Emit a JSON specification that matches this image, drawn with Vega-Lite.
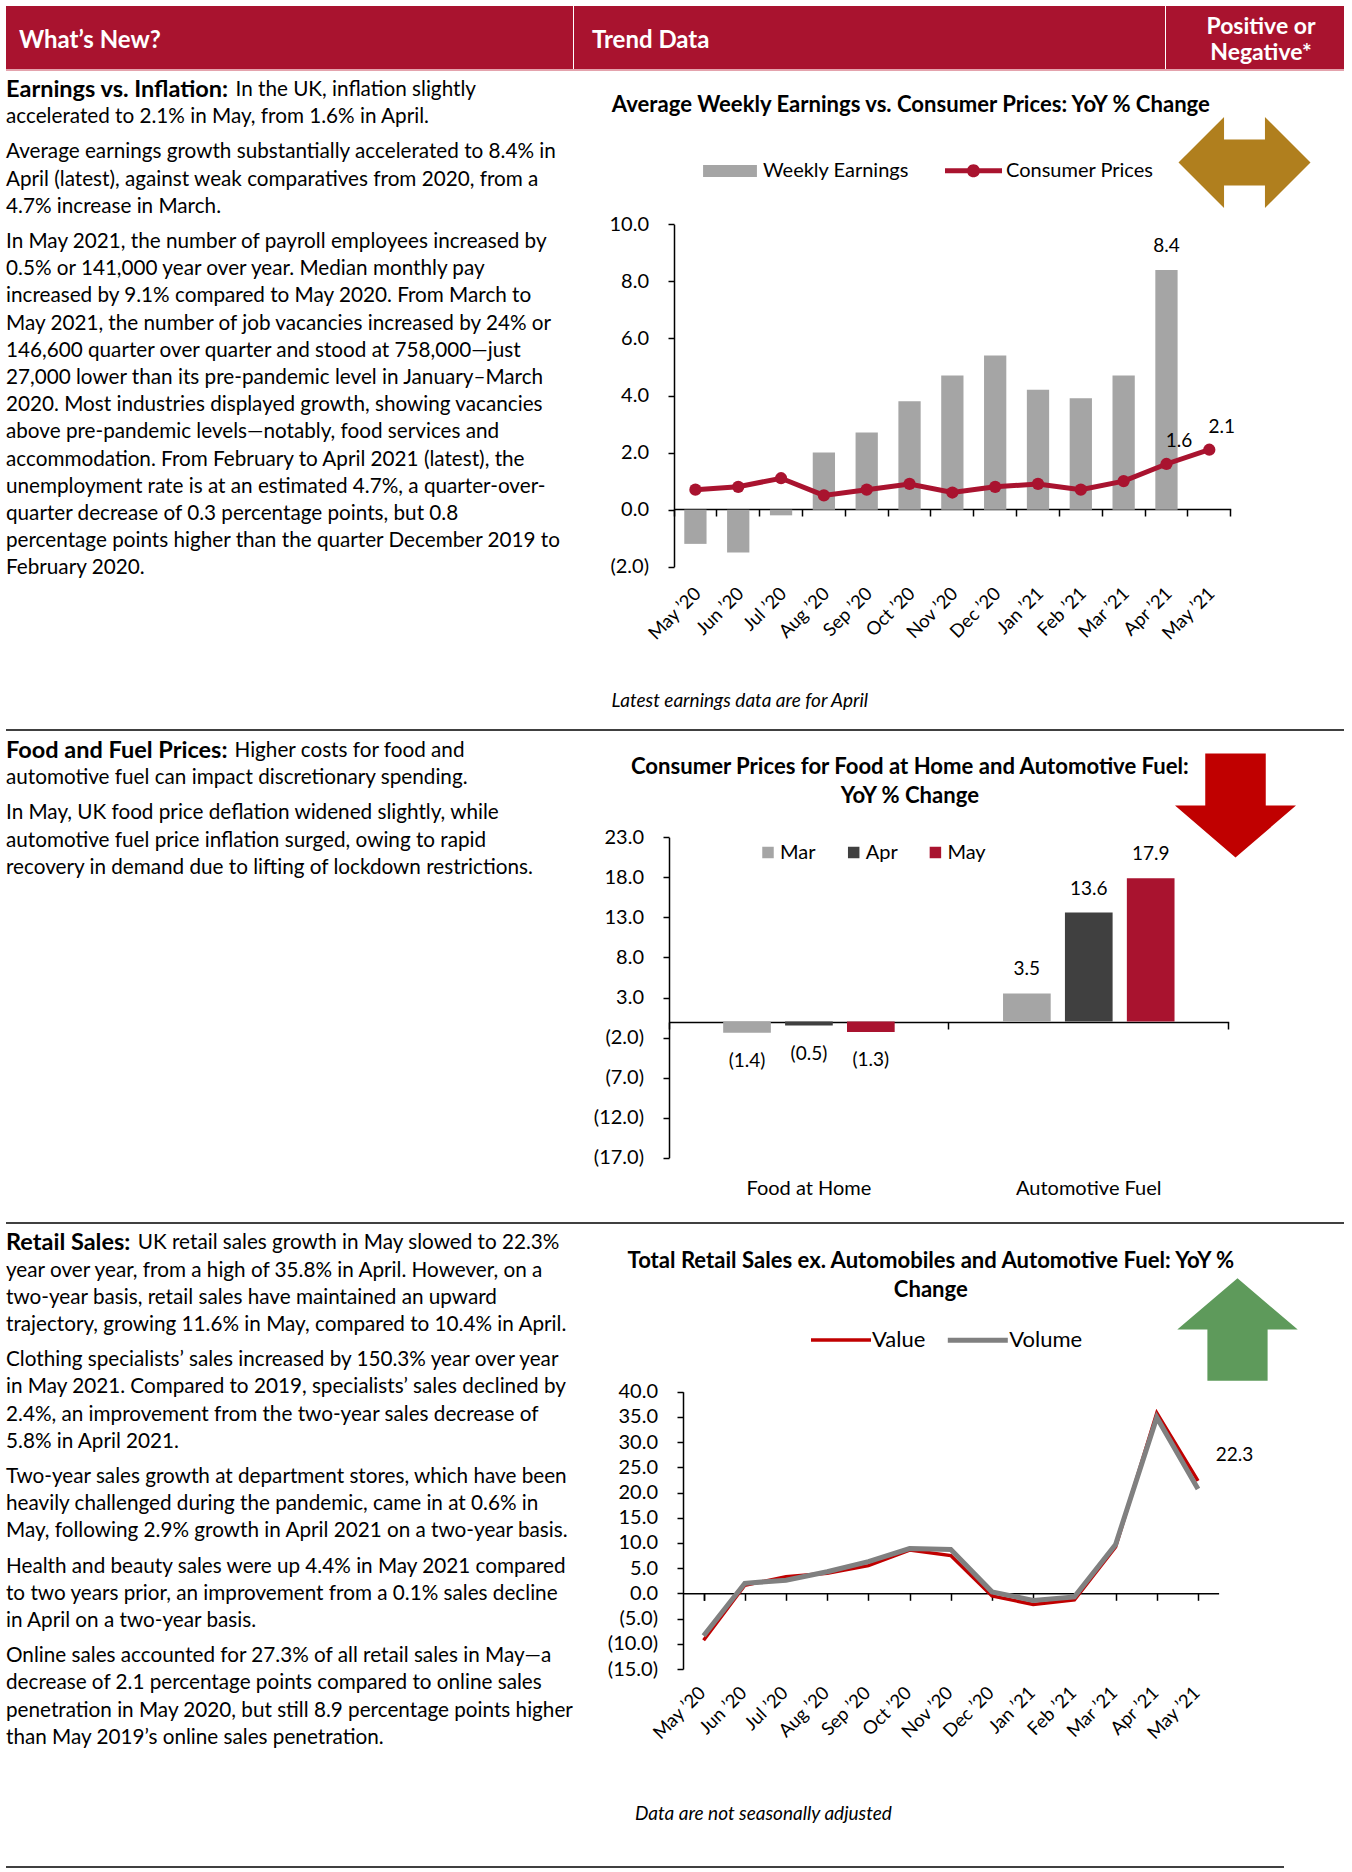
{
"$schema": "https://vega.github.io/schema/vega-lite/v6.json",
"background": "#ffffff",
"padding": {"left": 6, "top": 6, "right": 4, "bottom": 0},
"spacing": 0,
"resolve": {"scale": {"color": "independent", "fill": "independent", "shape": "independent", "yOffset": "independent", "xOffset": "independent", "strokeWidth": "independent"}},
"config": {
  "font": "Lato",
  "view": {"stroke": null},
  "axis": {"labelFont": "Lato", "titleFont": "Lato", "labelColor": "#000000", "titleColor": "#000000", "grid": false},
  "legend": {"labelFont": "Lato", "labelColor": "#000000", "labelLimit": 400},
  "title": {"font": "Lato", "color": "#000000"}
},
"vconcat": [
  {"hconcat": [
    {"width": 567, "height": 63, "view": {"fill": "#A9132F"}, "data": {"values": [{"h": "What’s New?"}]},
     "mark": {"type": "text", "align": "left", "baseline": "middle", "dx": 13, "dy": 3, "fontSize": 24, "fontWeight": "bold", "color": "#ffffff"},
     "encoding": {"x": {"datum": 0, "type": "quantitative", "scale": {"domain": [0, 1]}, "axis": null}, "text": {"field": "h"}}},
    {"width": 591, "height": 63, "view": {"fill": "#A9132F"}, "data": {"values": [{"h": "Trend Data"}]},
     "mark": {"type": "text", "align": "left", "baseline": "middle", "dx": 18, "dy": 3, "fontSize": 24, "fontWeight": "bold", "color": "#ffffff"},
     "encoding": {"x": {"datum": 0, "type": "quantitative", "scale": {"domain": [0, 1]}, "axis": null}, "text": {"field": "h"}}},
    {"width": 178, "height": 63, "view": {"fill": "#A9132F"}, "data": {"values": [{"h": "Positive or\nNegative*"}]},
     "mark": {"type": "text", "align": "center", "baseline": "middle", "lineBreak": "\n", "lineHeight": 26.5, "dx": 6, "dy": -10.8, "fontSize": 23, "fontWeight": "bold", "color": "#ffffff"},
     "encoding": {"text": {"field": "h"}}}
  ], "spacing": 1, "bounds": "flush"},
  {"width": 1338, "height": 2, "view": {"fill": "#E4A3AD"}, "data": {"values": []}, "mark": "point"},
  {"hconcat": [
    {"width": 667.4, "height": 658,
     "data": {"values": [
       {"line": 0, "para": 0, "lead": "Earnings vs. Inflation:", "text": "In the UK, inflation slightly"},
       {"line": 1, "para": 0, "text": "accelerated to 2.1% in May, from 1.6% in April."},
       {"line": 2, "para": 1, "text": "Average earnings growth substantially accelerated to 8.4% in"},
       {"line": 3, "para": 1, "text": "April (latest), against weak comparatives from 2020, from a"},
       {"line": 4, "para": 1, "text": "4.7% increase in March."},
       {"line": 5, "para": 2, "text": "In May 2021, the number of payroll employees increased by"},
       {"line": 6, "para": 2, "text": "0.5% or 141,000 year over year. Median monthly pay"},
       {"line": 7, "para": 2, "text": "increased by 9.1% compared to May 2020. From March to"},
       {"line": 8, "para": 2, "text": "May 2021, the number of job vacancies increased by 24% or"},
       {"line": 9, "para": 2, "text": "146,600 quarter over quarter and stood at 758,000—just"},
       {"line": 10, "para": 2, "text": "27,000 lower than its pre-pandemic level in January–March"},
       {"line": 11, "para": 2, "text": "2020. Most industries displayed growth, showing vacancies"},
       {"line": 12, "para": 2, "text": "above pre-pandemic levels—notably, food services and"},
       {"line": 13, "para": 2, "text": "accommodation. From February to April 2021 (latest), the"},
       {"line": 14, "para": 2, "text": "unemployment rate is at an estimated 4.7%, a quarter-over-"},
       {"line": 15, "para": 2, "text": "quarter decrease of 0.3 percentage points, but 0.8"},
       {"line": 16, "para": 2, "text": "percentage points higher than the quarter December 2019 to"},
       {"line": 17, "para": 2, "text": "February 2020."}
     ]},
     "encoding": {
       "x": {"datum": 0, "type": "quantitative", "scale": {"domain": [0, 1]}, "axis": null},
       "y": {"field": "line", "type": "ordinal", "scale": {"type": "point", "domain": [0,1,2,3,4,5,6,7,8,9,10,11,12,13,14,15,16,17], "range": [19, 481.4], "padding": 0}, "axis": null},
       "yOffset": {"field": "para", "type": "quantitative", "scale": {"domain": [0, 1], "range": [0, 8]}}
     },
     "layer": [
       {"transform": [{"filter": "isValid(datum.lead)"}], "mark": {"type": "text", "align": "left", "baseline": "middle", "fontSize": 23.5, "fontWeight": "bold", "color": "#000000"}, "encoding": {"text": {"field": "lead"}}},
       {"transform": [{"filter": "isValid(datum.lead)"}], "mark": {"type": "text", "align": "left", "baseline": "middle", "fontSize": 20.7, "dx": 229.5, "color": "#000000"}, "encoding": {"text": {"field": "text"}}},
       {"transform": [{"filter": "!isValid(datum.lead)"}], "mark": {"type": "text", "align": "left", "baseline": "middle", "fontSize": 20.7, "color": "#000000"}, "encoding": {"text": {"field": "text"}}}
     ]
    },
    {"width": 556.7, "height": 495.7,
     "title": {"text": "Average Weekly Earnings vs. Consumer Prices: YoY % Change", "anchor": "middle", "frame": "group", "baseline": "bottom", "dx": -41.5, "offset": -68, "fontSize": 22.1, "fontWeight": "bold", "color": "#000000"},
     "data": {"values": [
       {"m": "May ’20", "e": -1.2, "c": 0.7}, {"m": "Jun ’20", "e": -1.5, "c": 0.8}, {"m": "Jul ’20", "e": -0.2, "c": 1.1},
       {"m": "Aug ’20", "e": 2.0, "c": 0.5}, {"m": "Sep ’20", "e": 2.7, "c": 0.7}, {"m": "Oct ’20", "e": 3.8, "c": 0.9},
       {"m": "Nov ’20", "e": 4.7, "c": 0.6}, {"m": "Dec ’20", "e": 5.4, "c": 0.8}, {"m": "Jan ’21", "e": 4.2, "c": 0.9},
       {"m": "Feb ’21", "e": 3.9, "c": 0.7}, {"m": "Mar ’21", "e": 4.7, "c": 1.0}, {"m": "Apr ’21", "e": 8.4, "c": 1.6},
       {"m": "May ’21", "e": null, "c": 2.1}
     ]},
     "layer": [
       {"mark": {"type": "bar", "width": {"band": 0.52}},
        "encoding": {
          "x": {"field": "m", "type": "nominal", "scale": {"domain": ["May ’20","Jun ’20","Jul ’20","Aug ’20","Sep ’20","Oct ’20","Nov ’20","Dec ’20","Jan ’21","Feb ’21","Mar ’21","Apr ’21","May ’21"], "paddingInner": 0, "paddingOuter": 0},
                "axis": {"orient": "bottom", "domain": false, "ticks": false, "labelAngle": -45, "labelFontSize": 18.5, "labelPadding": 17, "labelOffset": -4, "labelColor": "#000000",
                         "title": "Latest earnings data are for April", "titleFontStyle": "italic", "titleFontWeight": "normal", "titleFontSize": 19, "titleAnchor": "start", "titleAlign": "left", "titleBaseline": "middle", "titleX": -63, "titleY": 134}},
          "y": {"field": "e", "type": "quantitative", "scale": {"domain": [-2, 10], "range": [495.7, 153.3], "nice": false},
                "axis": {"values": [-2,0,2,4,6,8,10], "format": "(.1f", "title": null, "domainColor": "#000000", "domainWidth": 1.5, "tickSize": 6, "tickWidth": 1.5, "tickColor": "#000000", "labelFontSize": 20, "labelPadding": 19.5}},
          "fill": {"datum": "Weekly Earnings", "type": "nominal", "scale": {"range": ["#A5A5A5"]},
                   "legend": {"orient": "none", "legendX": 29, "legendY": 73, "direction": "horizontal", "title": null, "symbolType": "M-1,-0.22L1,-0.22L1,0.22L-1,0.22Z", "symbolSize": 2900, "symbolStrokeWidth": 0, "labelFontSize": 20, "labelOffset": 6, "padding": 0}}
        }},
       {"mark": {"type": "line", "color": "#A9132F", "strokeWidth": 5},
        "encoding": {
          "x": {"field": "m", "type": "nominal", "axis": {"orient": "bottom", "offset": -57.7, "labels": false, "title": null, "domain": true, "domainColor": "#000000", "domainWidth": 1.5, "ticks": true, "tickSize": 7, "tickWidth": 1.5, "tickColor": "#000000", "bandPosition": 1, "tickExtra": true}},
          "y": {"field": "c", "type": "quantitative"}
        }},
       {"mark": {"type": "point", "filled": true, "size": 150, "opacity": 1},
        "encoding": {
          "x": {"field": "m", "type": "nominal", "axis": null},
          "y": {"field": "c", "type": "quantitative"},
          "color": {"datum": "Consumer Prices", "type": "nominal", "scale": {"range": ["#A9132F"]},
                    "legend": {"orient": "none", "legendX": 271, "legendY": 71.3, "direction": "horizontal", "title": null, "symbolType": "M-1,-0.09L1,-0.09L1,0.09L-1,0.09Z M-0.23,0A0.23,0.23 0 1,1 0.23,0A0.23,0.23 0 1,1 -0.23,0Z", "symbolSize": 3249, "symbolStrokeWidth": 0, "labelFontSize": 20, "labelOffset": 4, "padding": 0}}
        }},
       {"transform": [{"filter": "datum.m === 'Apr ’21'"}],
        "mark": {"type": "text", "baseline": "middle", "dy": -24, "fontSize": 19, "color": "#000000"},
        "encoding": {
          "x": {"field": "m", "type": "nominal", "axis": null},
          "y": {"field": "e", "type": "quantitative"},
          "text": {"field": "e", "type": "quantitative", "format": ".1f"}
        }},
       {"transform": [{"filter": "datum.m === 'Apr ’21' || datum.m === 'May ’21'"}],
        "mark": {"type": "text", "baseline": "middle", "dx": 12.5, "dy": -23, "fontSize": 19, "color": "#000000"},
        "encoding": {
          "x": {"field": "m", "type": "nominal", "axis": null},
          "y": {"field": "c", "type": "quantitative"},
          "text": {"field": "c", "type": "quantitative", "format": ".1f"}
        }}
     ],
     "resolve": {"axis": {"x": "independent"}}
    },
    {"width": 27, "height": 183, "data": {"values": [{"outlook": "Neutral"}]},
     "mark": {"type": "point", "filled": true, "opacity": 1, "size": 17424, "strokeWidth": 0},
     "encoding": {
       "shape": {"field": "outlook", "type": "nominal", "scale": {"domain": ["Neutral", "Negative", "Positive"], "range": ["M-1,0L-0.31,-0.69L-0.31,-0.35L0.31,-0.35L0.31,-0.69L1,0L0.31,0.69L0.31,0.35L-0.31,0.35L-0.31,0.69Z", "M-0.5,-0.86L0.5,-0.86L0.5,0L1,0L0,0.86L-1,0L-0.5,0Z", "M0,-0.85L1,0L0.5,0L0.5,0.85L-0.5,0.85L-0.5,0L-1,0Z"]}, "legend": null},
       "color": {"field": "outlook", "type": "nominal", "scale": {"domain": ["Neutral", "Negative", "Positive"], "range": ["#B07F1E", "#C00000", "#5E9A5B"]}, "legend": null}
     }}
  ], "spacing": 0, "bounds": "flush",
  "resolve": {"scale": {"color": "independent", "fill": "independent", "shape": "independent", "yOffset": "independent"}}},
  {"width": 1338, "height": 2, "view": {"fill": "#404040"}, "data": {"values": []}, "mark": "point"},
  {"hconcat": [
    {"width": 662.9, "height": 491,
     "data": {"values": [
       {"line": 0, "para": 0, "lead": "Food and Fuel Prices:", "text": "Higher costs for food and"},
       {"line": 1, "para": 0, "text": "automotive fuel can impact discretionary spending."},
       {"line": 2, "para": 1, "text": "In May, UK food price deflation widened slightly, while"},
       {"line": 3, "para": 1, "text": "automotive fuel price inflation surged, owing to rapid"},
       {"line": 4, "para": 1, "text": "recovery in demand due to lifting of lockdown restrictions."}
     ]},
     "encoding": {
       "x": {"datum": 0, "type": "quantitative", "scale": {"domain": [0, 1]}, "axis": null},
       "y": {"field": "line", "type": "ordinal", "scale": {"type": "point", "domain": [0,1,2,3,4], "range": [20, 128.8], "padding": 0}, "axis": null},
       "yOffset": {"field": "para", "type": "quantitative", "scale": {"domain": [0, 1], "range": [0, 8]}}
     },
     "layer": [
       {"transform": [{"filter": "isValid(datum.lead)"}], "mark": {"type": "text", "align": "left", "baseline": "middle", "fontSize": 23.5, "fontWeight": "bold", "color": "#000000"}, "encoding": {"text": {"field": "lead"}}},
       {"transform": [{"filter": "isValid(datum.lead)"}], "mark": {"type": "text", "align": "left", "baseline": "middle", "fontSize": 20.7, "dx": 228.5, "color": "#000000"}, "encoding": {"text": {"field": "text"}}},
       {"transform": [{"filter": "!isValid(datum.lead)"}], "mark": {"type": "text", "align": "left", "baseline": "middle", "fontSize": 20.7, "color": "#000000"}, "encoding": {"text": {"field": "text"}}}
     ]
    },
    {"width": 559.7, "height": 426.7,
     "title": {"text": ["Consumer Prices for Food at Home and Automotive Fuel:", "YoY % Change"], "anchor": "middle", "frame": "group", "baseline": "bottom", "lineHeight": 28.3, "dx": -39, "offset": -98.8, "fontSize": 22.1, "fontWeight": "bold", "color": "#000000"},
     "data": {"values": [
       {"cat": "Food at Home", "mo": "Mar", "v": -1.4}, {"cat": "Food at Home", "mo": "Apr", "v": -0.5}, {"cat": "Food at Home", "mo": "May", "v": -1.3},
       {"cat": "Automotive Fuel", "mo": "Mar", "v": 3.5}, {"cat": "Automotive Fuel", "mo": "Apr", "v": 13.6}, {"cat": "Automotive Fuel", "mo": "May", "v": 17.9}
     ]},
     "layer": [
       {"mark": {"type": "bar"},
        "encoding": {
          "x": {"field": "cat", "type": "nominal", "scale": {"domain": ["Food at Home", "Automotive Fuel"], "paddingInner": 0, "paddingOuter": 0},
                "axis": {"orient": "bottom", "domain": false, "ticks": false, "labelAngle": 0, "labelFontSize": 20, "labelPadding": 21, "title": null, "labelColor": "#000000"}},
          "xOffset": {"field": "mo", "type": "nominal", "scale": {"domain": ["Mar", "Apr", "May"], "paddingInner": 0.23, "paddingOuter": 0.875}},
          "y": {"field": "v", "type": "quantitative", "scale": {"domain": [-17, 23], "range": [426.7, 106.3], "nice": false},
                "axis": {"values": [-17,-12,-7,-2,3,8,13,18,23], "format": "(.1f", "title": null, "domainColor": "#000000", "domainWidth": 1.5, "tickSize": 6, "tickWidth": 1.5, "tickColor": "#000000", "labelFontSize": 20, "labelPadding": 19.5}},
          "fill": {"field": "mo", "type": "nominal", "scale": {"domain": ["Mar", "Apr", "May"], "range": ["#A5A5A5", "#404040", "#A9132F"]},
                   "legend": {"orient": "none", "legendX": 89, "legendY": 111.5, "direction": "horizontal", "title": null, "symbolType": "square", "symbolSize": 132, "symbolStrokeWidth": 0, "labelFontSize": 20, "labelOffset": 2, "columnPadding": 27.7, "padding": 0}}
        }},
       {"transform": [{"filter": "datum.v >= 0"}],
        "mark": {"type": "text", "baseline": "middle", "dy": -24, "fontSize": 19, "color": "#000000"},
        "encoding": {
          "x": {"field": "cat", "type": "nominal", "axis": {"orient": "bottom", "offset": -135.7, "labels": false, "title": null, "domain": true, "domainColor": "#000000", "domainWidth": 1.5, "ticks": true, "tickSize": 7, "tickWidth": 1.5, "tickColor": "#000000", "bandPosition": 1, "tickExtra": true}},
          "xOffset": {"field": "mo", "type": "nominal"},
          "y": {"field": "v", "type": "quantitative"},
          "text": {"field": "v", "type": "quantitative", "format": "(.1f"}
        }},
       {"transform": [{"filter": "datum.v < 0"}],
        "mark": {"type": "text", "baseline": "middle", "dy": 28.5, "fontSize": 19, "color": "#000000"},
        "encoding": {
          "x": {"field": "cat", "type": "nominal", "axis": null},
          "xOffset": {"field": "mo", "type": "nominal"},
          "y": {"field": "v", "type": "quantitative"},
          "text": {"field": "v", "type": "quantitative", "format": "(.1f"}
        }}
     ],
     "resolve": {"axis": {"x": "independent"}}
    },
    {"width": 13, "height": 149, "data": {"values": [{"outlook": "Negative"}]},
     "mark": {"type": "point", "filled": true, "opacity": 1, "size": 14641, "strokeWidth": 0},
     "encoding": {
       "shape": {"field": "outlook", "type": "nominal", "scale": {"domain": ["Neutral", "Negative", "Positive"], "range": ["M-1,0L-0.31,-0.69L-0.31,-0.35L0.31,-0.35L0.31,-0.69L1,0L0.31,0.69L0.31,0.35L-0.31,0.35L-0.31,0.69Z", "M-0.5,-0.86L0.5,-0.86L0.5,0L1,0L0,0.86L-1,0L-0.5,0Z", "M0,-0.85L1,0L0.5,0L0.5,0.85L-0.5,0.85L-0.5,0L-1,0Z"]}, "legend": null},
       "color": {"field": "outlook", "type": "nominal", "scale": {"domain": ["Neutral", "Negative", "Positive"], "range": ["#B07F1E", "#C00000", "#5E9A5B"]}, "legend": null}
     }}
  ], "spacing": 0, "bounds": "flush",
  "resolve": {"scale": {"color": "independent", "fill": "independent", "shape": "independent", "yOffset": "independent", "xOffset": "independent"}}},
  {"width": 1338, "height": 2, "view": {"fill": "#404040"}, "data": {"values": []}, "mark": "point"},
  {"hconcat": [
    {"width": 676.2, "height": 642,
     "data": {"values": [
       {"line": 0, "para": 0, "lead": "Retail Sales:", "text": "UK retail sales growth in May slowed to 22.3%"},
       {"line": 1, "para": 0, "text": "year over year, from a high of 35.8% in April. However, on a"},
       {"line": 2, "para": 0, "text": "two-year basis, retail sales have maintained an upward"},
       {"line": 3, "para": 0, "text": "trajectory, growing 11.6% in May, compared to 10.4% in April."},
       {"line": 4, "para": 1, "text": "Clothing specialists’ sales increased by 150.3% year over year"},
       {"line": 5, "para": 1, "text": "in May 2021. Compared to 2019, specialists’ sales declined by"},
       {"line": 6, "para": 1, "text": "2.4%, an improvement from the two-year sales decrease of"},
       {"line": 7, "para": 1, "text": "5.8% in April 2021."},
       {"line": 8, "para": 2, "text": "Two-year sales growth at department stores, which have been"},
       {"line": 9, "para": 2, "text": "heavily challenged during the pandemic, came in at 0.6% in"},
       {"line": 10, "para": 2, "text": "May, following 2.9% growth in April 2021 on a two-year basis."},
       {"line": 11, "para": 3, "text": "Health and beauty sales were up 4.4% in May 2021 compared"},
       {"line": 12, "para": 3, "text": "to two years prior, an improvement from a 0.1% sales decline"},
       {"line": 13, "para": 3, "text": "in April on a two-year basis."},
       {"line": 14, "para": 4, "text": "Online sales accounted for 27.3% of all retail sales in May—a"},
       {"line": 15, "para": 4, "text": "decrease of 2.1 percentage points compared to online sales"},
       {"line": 16, "para": 4, "text": "penetration in May 2020, but still 8.9 percentage points higher"},
       {"line": 17, "para": 4, "text": "than May 2019’s online sales penetration."}
     ]},
     "encoding": {
       "x": {"datum": 0, "type": "quantitative", "scale": {"domain": [0, 1]}, "axis": null},
       "y": {"field": "line", "type": "ordinal", "scale": {"type": "point", "domain": [0,1,2,3,4,5,6,7,8,9,10,11,12,13,14,15,16,17], "range": [19.3, 481.7], "padding": 0}, "axis": null},
       "yOffset": {"field": "para", "type": "quantitative", "scale": {"domain": [0, 1], "range": [0, 8]}}
     },
     "layer": [
       {"transform": [{"filter": "isValid(datum.lead)"}], "mark": {"type": "text", "align": "left", "baseline": "middle", "fontSize": 23.5, "fontWeight": "bold", "color": "#000000"}, "encoding": {"text": {"field": "lead"}}},
       {"transform": [{"filter": "isValid(datum.lead)"}], "mark": {"type": "text", "align": "left", "baseline": "middle", "fontSize": 20.7, "dx": 131.8, "color": "#000000"}, "encoding": {"text": {"field": "text"}}},
       {"transform": [{"filter": "!isValid(datum.lead)"}], "mark": {"type": "text", "align": "left", "baseline": "middle", "fontSize": 20.7, "color": "#000000"}, "encoding": {"text": {"field": "text"}}}
     ]
    },
    {"width": 535.6, "height": 445,
     "title": {"text": ["Total Retail Sales ex. Automobiles and Automotive Fuel: YoY %", "Change"], "anchor": "middle", "frame": "group", "baseline": "bottom", "lineHeight": 29, "dx": -20, "offset": -99.8, "fontSize": 22.1, "fontWeight": "bold", "color": "#000000"},
     "data": {"values": [
       {"m": "May ’20", "s": "Value", "v": -9.3}, {"m": "Jun ’20", "s": "Value", "v": 1.6}, {"m": "Jul ’20", "s": "Value", "v": 3.3},
       {"m": "Aug ’20", "s": "Value", "v": 4.0}, {"m": "Sep ’20", "s": "Value", "v": 5.5}, {"m": "Oct ’20", "s": "Value", "v": 8.6},
       {"m": "Nov ’20", "s": "Value", "v": 7.5}, {"m": "Dec ’20", "s": "Value", "v": -0.5}, {"m": "Jan ’21", "s": "Value", "v": -2.2},
       {"m": "Feb ’21", "s": "Value", "v": -1.3}, {"m": "Mar ’21", "s": "Value", "v": 9.2}, {"m": "Apr ’21", "s": "Value", "v": 35.8},
       {"m": "May ’21", "s": "Value", "v": 22.3},
       {"m": "May ’20", "s": "Volume", "v": -8.4}, {"m": "Jun ’20", "s": "Volume", "v": 2.0}, {"m": "Jul ’20", "s": "Volume", "v": 2.6},
       {"m": "Aug ’20", "s": "Volume", "v": 4.3}, {"m": "Sep ’20", "s": "Volume", "v": 6.3}, {"m": "Oct ’20", "s": "Volume", "v": 8.9},
       {"m": "Nov ’20", "s": "Volume", "v": 8.7}, {"m": "Dec ’20", "s": "Volume", "v": 0.3}, {"m": "Jan ’21", "s": "Volume", "v": -1.4},
       {"m": "Feb ’21", "s": "Volume", "v": -0.7}, {"m": "Mar ’21", "s": "Volume", "v": 9.7}, {"m": "Apr ’21", "s": "Volume", "v": 34.9},
       {"m": "May ’21", "s": "Volume", "v": 20.7}
     ]},
     "layer": [
       {"mark": {"type": "line"},
        "encoding": {
          "x": {"field": "m", "type": "nominal", "scale": {"domain": ["May ’20","Jun ’20","Jul ’20","Aug ’20","Sep ’20","Oct ’20","Nov ’20","Dec ’20","Jan ’21","Feb ’21","Mar ’21","Apr ’21","May ’21"], "paddingInner": 0, "paddingOuter": 0},
                "axis": {"orient": "bottom", "domain": false, "ticks": false, "labelAngle": -45, "labelFontSize": 18.5, "labelPadding": 14, "labelOffset": -8, "labelColor": "#000000",
                         "title": "Data are not seasonally adjusted", "titleFontStyle": "italic", "titleFontWeight": "normal", "titleFontSize": 19, "titleAnchor": "start", "titleAlign": "left", "titleBaseline": "middle", "titleX": -48.5, "titleY": 144.3}},
          "y": {"field": "v", "type": "quantitative", "scale": {"domain": [-15, 40], "range": [445, 167.7], "nice": false},
                "axis": {"values": [-15,-10,-5,0,5,10,15,20,25,30,35,40], "format": "(.1f", "title": null, "domainColor": "#000000", "domainWidth": 1.5, "tickSize": 6, "tickWidth": 1.5, "tickColor": "#000000", "labelFontSize": 20, "labelPadding": 19.5}},
          "color": {"field": "s", "type": "nominal", "scale": {"domain": ["Value", "Volume"], "range": ["#C00000", "#808080"]},
                    "legend": {"orient": "none", "legendX": 126, "legendY": 83.5, "direction": "horizontal", "title": null, "symbolType": "stroke", "symbolSize": 3600, "symbolStrokeWidth": 5.5, "labelFontSize": 22, "labelOffset": -1, "columnPadding": 11.3, "padding": 0}},
          "strokeWidth": {"field": "s", "type": "ordinal", "scale": {"domain": ["Value", "Volume"], "range": [3.5, 5]}, "legend": null}
        }},
       {"transform": [{"filter": "datum.s === 'Value' && datum.m === 'May ’21'"}],
        "mark": {"type": "text", "baseline": "middle", "dx": 36.5, "dy": -26, "fontSize": 19, "color": "#000000"},
        "encoding": {
          "x": {"field": "m", "type": "nominal", "axis": {"orient": "bottom", "offset": -75.7, "labels": false, "title": null, "domain": true, "domainColor": "#000000", "domainWidth": 1.5, "ticks": true, "tickSize": 7, "tickWidth": 1.5, "tickColor": "#000000", "bandPosition": 1, "tickExtra": true}},
          "y": {"field": "v", "type": "quantitative"},
          "text": {"field": "v", "type": "quantitative", "format": ".1f"}
        }}
     ],
     "resolve": {"axis": {"x": "independent"}}
    },
    {"width": 37, "height": 211, "data": {"values": [{"outlook": "Positive"}]},
     "mark": {"type": "point", "filled": true, "opacity": 1, "size": 14500, "strokeWidth": 0},
     "encoding": {
       "shape": {"field": "outlook", "type": "nominal", "scale": {"domain": ["Neutral", "Negative", "Positive"], "range": ["M-1,0L-0.31,-0.69L-0.31,-0.35L0.31,-0.35L0.31,-0.69L1,0L0.31,0.69L0.31,0.35L-0.31,0.35L-0.31,0.69Z", "M-0.5,-0.86L0.5,-0.86L0.5,0L1,0L0,0.86L-1,0L-0.5,0Z", "M0,-0.85L1,0L0.5,0L0.5,0.85L-0.5,0.85L-0.5,0L-1,0Z"]}, "legend": null},
       "color": {"field": "outlook", "type": "nominal", "scale": {"domain": ["Neutral", "Negative", "Positive"], "range": ["#B07F1E", "#C00000", "#5E9A5B"]}, "legend": null}
     }}
  ], "spacing": 0, "bounds": "flush",
  "resolve": {"scale": {"color": "independent", "fill": "independent", "shape": "independent", "yOffset": "independent", "strokeWidth": "independent"}}},
  {"width": 1278, "height": 2, "view": {"fill": "#404040"}, "data": {"values": []}, "mark": "point"}
]
}
